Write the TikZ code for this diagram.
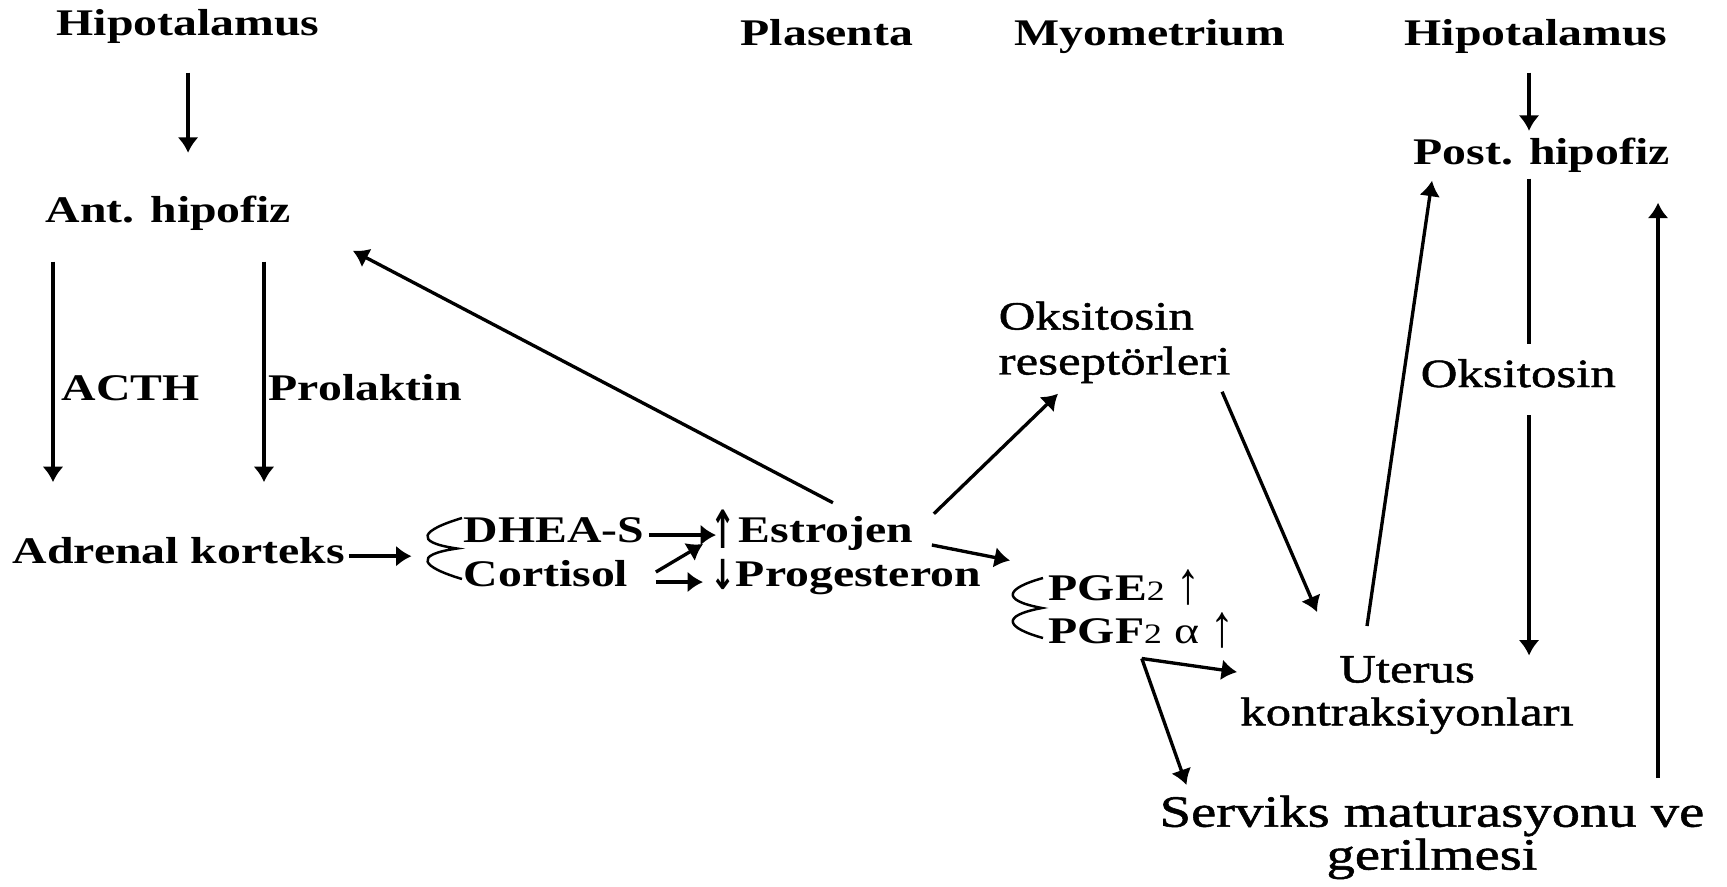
\documentclass[tikz,border=0pt]{standalone}
\usepackage{fontspec}
\usepackage{graphicx}
\setmainfont{Liberation Serif}[FakeStretch=1.27]
\newfontfamily\medfont{Liberation Serif}[FakeStretch=1.27,FakeBold=1.2]
\newfontfamily\arrfont{DejaVu Sans}
\usetikzlibrary{arrows.meta}

\newcommand{\smalltwo}{{\mdseries\fontsize{8}{8}\selectfont 2}}
\newcommand{\uparr}{\raisebox{-0.6mm}{\scalebox{0.8}[1.4]{\arrfont\bfseries ↑}}\hspace{0.3mm}}
\newcommand{\downarr}{\raisebox{-0.3mm}{\scalebox{0.8}[1.1]{\arrfont\bfseries ↓}}}
\newcommand{\thinup}{\raisebox{-0.3mm}{\scalebox{1}[1.6]{\mdseries ↑}}}

\begin{document}
\begin{tikzpicture}[x=1cm,y=-1cm,
    lbl/.style={inner sep=0pt,anchor=base west,
      font=\bfseries\fontsize{10.7}{13}\selectfont},
    txt/.style={inner sep=0pt,align=center,
      font=\medfont\fontsize{11.4}{12.2}\selectfont},
    arr/.style={line width=0.95pt,-{Latex[length=4.4pt,width=6pt]}},
    wave/.style={line width=0.7pt}]
    \fill[white] (0,0) rectangle (17.27,8.86);
    \useasboundingbox (0,0) rectangle (17.27,8.86);
    \foreach \n/\x/\y/\lab in {hipL/0.56/0.35/Hipotalamus,
      anthip/0.45/2.22/Ant. hipofiz,adrenal/0.12/5.63/Adrenal korteks,
      plas/7.40/0.45/Plasenta,myo/10.14/0.45/Myometrium,
      hipR/14.04/0.45/Hipotalamus,posthip/14.13/1.64/Post. hipofiz,
      dhea/4.63/5.42/DHEA-S,cort/4.63/5.86/Cortisol,
      estro/7.10/5.42/\uparr Estrojen,proge/7.10/5.86/\downarr Progesteron} {
      \node[lbl] (\n) at (\x,\y) {\lab};
    }
    \node[lbl,inner xsep=0.8mm] (acth) at (0.53,4.00) {ACTH};
    \node[lbl,inner xsep=0.4mm] (prol) at (2.64,4.00) {Prolaktin};
    \node[lbl] (pge) at (10.48,6.00) {PGE\smalltwo{} \thinup};
    \node[lbl] (pgf) at (10.48,6.43) {PGF\smalltwo{} {\mdseries α} \thinup};
    \node[txt,align=left,anchor=north west,font=\medfont\fontsize{11.4}{12.8}\selectfont]
      (oksrec) at (9.98,3.01) {Oksitosin\\reseptörleri};
    \node[lbl,font=\medfont\fontsize{11.4}{12.8}\selectfont] (oksR) at (14.20,3.87) {Oksitosin};
    \node[txt,anchor=north] (uterus) at (14.07,6.555) {Uterus\\kontraksiyonları};
    \node[txt,anchor=north,font=\medfont\fontsize{12.7}{12.2}\selectfont]
      (serviks) at (14.32,7.95) {Serviks maturasyonu ve\\gerilmesi};

    \draw[arr,shorten <=2.9mm,shorten >=4.2mm] (hipL.south) -- (hipL.south |- anthip.north);
    \draw[arr,shorten <=3.1mm,shorten >=5.4mm] (acth.west |- anthip.south) -- (acth.west |- adrenal.north);
    \draw[arr,shorten <=3.1mm,shorten >=5.4mm] (prol.west |- anthip.south) -- (prol.west |- adrenal.north);
    \draw[arr,shorten <=0.3mm] ([yshift=-0.6mm]adrenal.east) -- ++(0.66,0);

    \draw[wave] (4.62,5.18) .. controls (4.22,5.30) and (4.12,5.42) .. (4.57,5.485)
      .. controls (4.12,5.55) and (4.22,5.67) .. (4.62,5.79);
    \draw[wave] (10.43,5.78) .. controls (10.07,5.88) and (9.99,6.00) .. (10.42,6.08)
      .. controls (9.99,6.16) and (10.07,6.28) .. (10.43,6.38);

    \draw[arr,shorten <=0.4mm] ([yshift=0.7mm]dhea.base east) -- ([xshift=0.6mm,yshift=0.7mm]estro.base west);
    \draw[arr] ([xshift=2.7mm,yshift=1.4mm]cort.base east) -- ([xshift=-0.7mm,yshift=-0.2mm]estro.base west);
    \draw[arr] ([xshift=2.7mm,yshift=0.4mm]cort.base east) -- ([xshift=-0.7mm,yshift=0.4mm]proge.base west);

    \draw[arr] ([xshift=2.1mm,yshift=0.6mm]estro.north) -- ([xshift=6.1mm,yshift=-2mm]anthip.south east);
    \draw[arr] ([xshift=2mm,yshift=-0.5mm]estro.north east) -- ([xshift=6mm,yshift=-1mm]oksrec.south west);
    \draw[arr] ([xshift=1.8mm,yshift=-0.3mm]estro.base east) -- ([xshift=-3.8mm,yshift=0.8mm]pge.north west);
    \draw[arr] ([xshift=-0.9mm,yshift=-0.8mm]oksrec.south east) -- ([xshift=7.75mm,yshift=4.35mm]uterus.north west);
    \draw[arr] ([xshift=-4mm,yshift=2.95mm]uterus.north) -- ([xshift=1.9mm,yshift=-0.8mm]posthip.south west);

    \coordinate (oxcol) at (15.29,0);
    \coordinate (rtcol) at (16.58,0);
    \draw[arr,shorten <=1.9mm,shorten >=0.6mm] (hipR.south -| oxcol) -- (posthip.north -| oxcol);
    \draw[line width=0.95pt,shorten <=0.6mm,shorten >=1.5mm] (posthip.south -| oxcol) -- (oksR.north -| oxcol);
    \draw[arr,shorten <=2.7mm] (oksR.south -| oxcol) -- (uterus.north -| oxcol);
    \draw[arr,shorten <=1.7mm,shorten >=3mm] (serviks.north -| rtcol) -- (posthip.south -| rtcol);

    \coordinate (pgsplit) at ([yshift=-1mm]pgf.south);
    \draw[arr] (pgsplit) -- ([xshift=-0.25mm,yshift=2.3mm]uterus.west);
    \draw[arr] (pgsplit) -- ([xshift=2.75mm,yshift=1mm]serviks.north west);
\end{tikzpicture}
\end{document}
